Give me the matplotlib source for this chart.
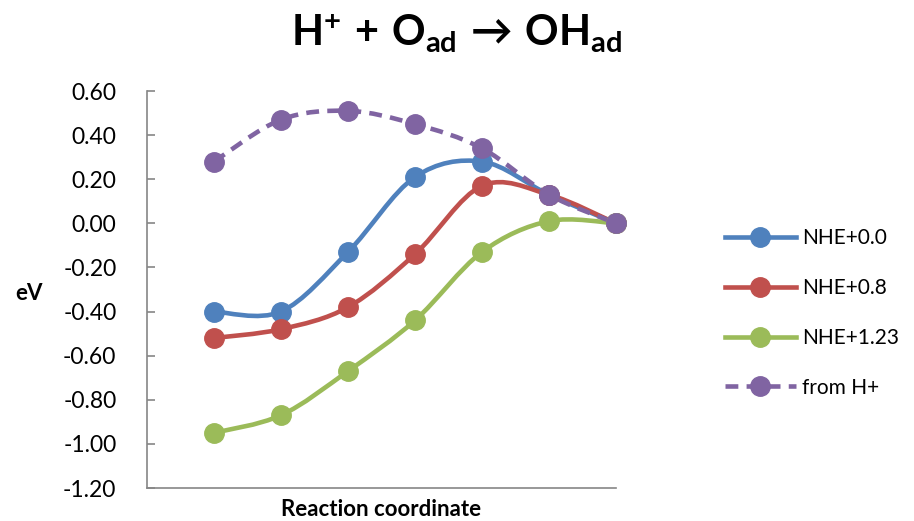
import numpy as np
import matplotlib; matplotlib.use("Agg")
import matplotlib.pyplot as plt
from matplotlib.path import Path
from matplotlib.patches import PathPatch
from matplotlib.lines import Line2D

plt.rcParams['font.family'] = ['Lato', 'DejaVu Sans']
plt.rcParams['axes.unicode_minus'] = False
plt.rcParams['mathtext.fontset'] = 'custom'
plt.rcParams['mathtext.rm'] = 'Lato:bold'
plt.rcParams['mathtext.it'] = 'Lato:bold'
plt.rcParams['mathtext.bf'] = 'Lato:bold'
plt.rcParams['mathtext.fallback'] = 'stixsans'

# reaction coordinate steps (step 0 is left empty)
steps = [1, 2, 3, 4, 5, 6, 7]
nhe_00 = [-0.40, -0.40, -0.13, 0.21, 0.28, 0.13, 0.00]
nhe_08 = [-0.52, -0.48, -0.38, -0.14, 0.17, 0.13, 0.00]
nhe_123 = [-0.95, -0.87, -0.67, -0.44, -0.13, 0.01, 0.00]
from_h = [0.28, 0.47, 0.51, 0.45, 0.34, 0.13, 0.00]
labels = ["NHE+0.0", "NHE+0.8", "NHE+1.23", "from H+"]
colors = ["#4F81BD", "#C0504D", "#9BBB59", "#8064A2"]
styles = ["-", "-", "-", "--"]
yticks = [-1.2, -1.0, -0.8, -0.6, -0.4, -0.2, 0.0, 0.2, 0.4, 0.6]

def smooth_path(x, y):
    # Catmull-Rom style cubic Bezier through the points
    p = np.column_stack([x, y]).astype(float)
    ext = np.vstack([p[0], p, p[-1]])
    verts = [p[0]]; codes = [Path.MOVETO]
    for i in range(len(p) - 1):
        p0, p1, p2, p3 = ext[i], ext[i+1], ext[i+2], ext[i+3]
        verts += [p1 + (p2 - p0) / 6, p2 - (p3 - p1) / 6, p2]
        codes += [Path.CURVE4] * 3
    return Path(verts, codes)

fig = plt.figure(figsize=(9.14, 5.21), dpi=100)
ax = fig.add_axes([147/914, 33/521, (616-147)/914, (488-91)/521])

handles = []
for ys, lab, c, ls in zip([nhe_00, nhe_08, nhe_123, from_h], labels, colors, styles):
    dash = (2.8, 1.8) if ls == "--" else None
    patch = PathPatch(smooth_path(steps, ys), facecolor="none", edgecolor=c,
                      linewidth=3.3, capstyle="butt", joinstyle="round", clip_on=False)
    if dash:
        patch.set_linestyle((0, dash))
    ax.add_patch(patch)
    ax.plot(steps, ys, linestyle="none", marker="o", markersize=14, color=c, clip_on=False)
    h = Line2D([], [], color=c, linewidth=3.3, marker="o", markersize=14,
               linestyle=(0, dash) if dash else "-")
    handles.append(h)

ax.set_xlim(0, 7)
ax.set_ylim(-1.2, 0.6)
ax.set_yticks(yticks)
ax.set_yticklabels([f"{v:.2f}" for v in yticks])
ax.set_xticks([])
ax.tick_params(axis="y", direction="in", length=6, width=1.2, color="#868686",
               labelsize=16.5, pad=22)
for s in ["top", "right"]:
    ax.spines[s].set_visible(False)
for s in ["left", "bottom"]:
    ax.spines[s].set_color("#868686")
    ax.spines[s].set_linewidth(1.2)

ax.set_xlabel("Reaction coordinate", fontsize=16, fontweight="bold", labelpad=8)
fig.text(29/914, 1 - 293/521, "eV", fontsize=16, fontweight="bold",
         ha="center", va="center")
fig.text(0.5, 1 - 46/521, r"$\mathrm{H^{+}\,+\,O_{ad}\,\rightarrow\,OH_{ad}}$",
         fontsize=30, ha="center", va="baseline")

fig.legend(handles=handles, labels=labels, loc="center left",
           bbox_to_anchor=(706/914, 1 - 313/521), frameon=False, fontsize=15,
           handlelength=3.4, labelspacing=1.43, handletextpad=0.3)

plt.savefig("out.png", dpi=100)
